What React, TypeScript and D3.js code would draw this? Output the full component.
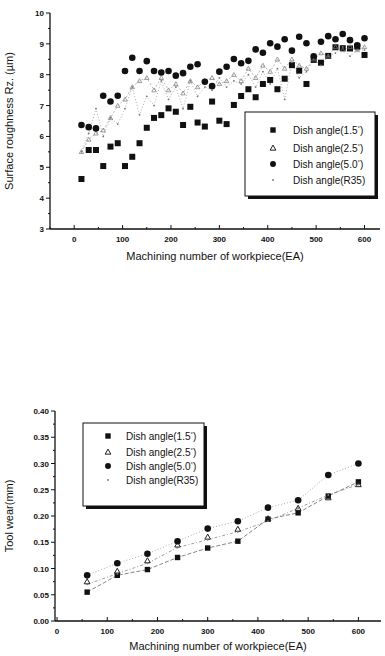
import React from "react";
import * as d3 from "d3";

// Top chart: surface roughness, every 15 workpieces
const roughX = d3.range(1, 41).map((i) => i * 15);
const rough15 = [4.62, 5.56, 5.56, 5.04, 5.67, 5.78, 5.04, 5.34, 5.78, 6.28, 6.6, 6.69, 6.91, 6.8, 6.37, 6.96, 6.45, 6.32, 7.13, 6.51, 6.4, 7.02, 7.31, 7.53, 7.27, 7.7, 7.83, 7.53, 7.87, 8.31, 8.13, 7.7, 8.48, 8.39, 8.61, 8.89, 8.86, 8.85, 8.91, 8.64];
const rough25 = [5.5, 5.9, 6.1, 6.2, 6.6, 7.0, 7.2, 7.6, 7.8, 7.9, 7.5, 7.9, 7.5, 7.7, 7.4, 7.8, 7.6, 7.8, 7.9, 7.7, 7.8, 8.0, 7.8, 8.2, 7.9, 8.3, 8.1, 8.5, 8.2, 8.5, 8.3, 8.2, 8.5, 8.7, 8.6, 8.9, 8.8, 8.9, 8.8, 8.9];
const rough50 = [6.37, 6.3, 6.26, 7.32, 7.13, 7.32, 8.12, 8.55, 8.12, 8.44, 8.12, 8.07, 8.12, 7.97, 8.05, 8.26, 8.34, 7.77, 7.63, 8.1, 8.26, 8.51, 8.37, 8.45, 8.82, 8.71, 9.02, 8.91, 9.15, 8.78, 9.23, 9.02, 8.6, 9.07, 9.25, 9.15, 9.32, 9.12, 8.95, 9.18];
const roughR35 = [5.5, 6.1, 6.9, 6.0, 6.6, 6.4, 6.9, 7.6, 6.7, 7.3, 7.0, 7.8, 7.2, 7.6, 6.9, 7.8, 7.3, 7.6, 7.5, 7.9, 7.6, 7.8, 7.7, 8.0, 7.6, 8.1, 7.7, 8.2, 7.2, 8.4, 7.9, 8.1, 8.5, 8.3, 8.6, 8.7, 8.9, 8.6, 8.8, 8.8];

// Bottom chart: tool wear, every 60 workpieces
const wearX = [60, 120, 180, 240, 300, 360, 420, 480, 540, 600];
const wear15 = [0.055, 0.087, 0.098, 0.121, 0.139, 0.152, 0.194, 0.206, 0.238, 0.265];
const wear25 = [0.075, 0.095, 0.115, 0.145, 0.16, 0.175, 0.195, 0.215, 0.235, 0.26];
const wear50 = [0.087, 0.11, 0.128, 0.152, 0.176, 0.19, 0.216, 0.23, 0.278, 0.3];
const wearR35 = [0.07, 0.09, 0.11, 0.14, 0.155, 0.17, 0.19, 0.215, 0.24, 0.26];

const legendLabels = ["1.5", "2.5", "5.0", "R35"];
const roughTicks = [3, 4, 5, 6, 7, 8, 9, 10];
const wearTicks = [0, 0.05, 0.1, 0.15, 0.2, 0.25, 0.3, 0.35, 0.4];
const xTicks = [0, 100, 200, 300, 400, 500, 600];

const FONT = "Liberation Sans, Arial, sans-serif";

function Marker({ kind, x, y, s = 1, faint = false }: { kind: number; x: number; y: number; s?: number; faint?: boolean }) {
  if (kind === 0) return <rect x={x - 3 * s} y={y - 3 * s} width={6 * s} height={6 * s} fill="#111" />;
  if (kind === 1)
    return (
      <path
        d={`M${x},${y - 3.2 * s}L${x + 3.2 * s},${y + 2.4 * s}L${x - 3.2 * s},${y + 2.4 * s}Z`}
        fill="none"
        stroke={faint ? "#777" : "#222"}
        strokeWidth={faint ? 0.7 : 1}
      />
    );
  if (kind === 2) return <circle cx={x} cy={y} r={3.3 * s} fill="#111" />;
  return <circle cx={x} cy={y} r={0.9} fill="#777" />;
}

function Legend({ x, y, w, h, rows, mx, tx }: any) {
  return (
    <g>
      <rect x={x + 3} y={y + 3} width={w} height={h} fill="#111" />
      <rect x={x} y={y} width={w} height={h} fill="#fff" stroke="#111" strokeWidth={1} />
      {legendLabels.map((l, i) => (
        <g key={l}>
          <Marker kind={i} x={mx} y={rows[i]} s={0.9} />
          <text x={tx} y={rows[i] + 3.5} fontSize={10} fontFamily={FONT} fill="#111">
            {l === "R35" ? (
              "Dish angle(R35)"
            ) : (
              <>
                Dish angle({l}
                <tspan dy={-4} fontSize={6}>°</tspan>
                <tspan dy={4}>)</tspan>
              </>
            )}
          </text>
        </g>
      ))}
    </g>
  );
}

function Axes({ x, y, yTicks, yFmt, minorY, minorX }: any) {
  const [x0, x1] = x.range();
  const [y0] = y.range();
  return (
    <g fontFamily={FONT} fill="#111">
      <line x1={x0} x2={x1} y1={y0} y2={y0} stroke="#111" strokeWidth={1.3} />
      <line x1={x0} x2={x0} y1={y0} y2={y.range()[1]} stroke="#111" strokeWidth={1.3} />
      {yTicks.map((t: number) => (
        <g key={t}>
          <line x1={x0 - 4} x2={x0} y1={y(t)} y2={y(t)} stroke="#111" />
          <text x={x0 - 6} y={y(t) + 3} fontSize={8} textAnchor="end" fontWeight="bold">
            {yFmt(t)}
          </text>
        </g>
      ))}
      {minorY.map((t: number) => (
        <line key={t} x1={x0 - 2} x2={x0} y1={y(t)} y2={y(t)} stroke="#111" />
      ))}
      {xTicks.map((t) => (
        <g key={t}>
          <line x1={x(t)} x2={x(t)} y1={y0} y2={y0 - 4} stroke="#111" />
          <text x={x(t)} y={y0 + 13} fontSize={8} textAnchor="middle" fontWeight="bold">
            {t}
          </text>
        </g>
      ))}
      {minorX.map((t: number) => (
        <line key={t} x1={x(t)} x2={x(t)} y1={y0} y2={y0 - 2} stroke="#111" />
      ))}
    </g>
  );
}

export default function App() {
  // top chart scales
  const xT = d3.scaleLinear().domain([-50, 632]).range([50, 380]);
  const yT = d3.scaleLinear().domain([3, 10]).range([229, 13]);
  // bottom chart scales
  const xB = d3.scaleLinear().domain([-4, 645]).range([55, 381]);
  const yB = d3.scaleLinear().domain([0, 0.4]).range([621, 411]);

  const topSeries = [rough15, rough25, rough50, roughR35];
  const botSeries = [wear15, wear25, wear50, wearR35];

  const lineT = (vals: number[]) =>
    d3.line<number>().x((_, i) => xT(roughX[i])).y((d) => yT(d))(vals) || "";
  const lineB = (vals: number[]) =>
    d3.line<number>().x((_, i) => xB(wearX[i])).y((d) => yB(d))(vals) || "";

  return (
    <svg width={385} height={656} style={{ position: "absolute", left: 0, top: 0, background: "#fff" }}>
      {/* ---------- top chart ---------- */}
      <path d={lineT(roughR35)} fill="none" stroke="#999" strokeWidth={0.8} strokeDasharray="1,2" />
      <path d={lineT(rough25)} fill="none" stroke="#999" strokeWidth={0.7} strokeDasharray="2,2" />
      {topSeries.map((s, k) =>
        s.map((v, i) => (
          <Marker key={`t${k}-${i}`} kind={k} x={xT(roughX[i])} y={yT(v)} s={k === 1 ? 0.7 : 1} faint={k === 1} />
        ))
      )}
      <Axes
        x={xT}
        y={yT}
        yTicks={roughTicks}
        yFmt={(t: number) => t}
        minorY={d3.range(3.5, 10, 1)}
        minorX={[-50, 50, 150, 250, 350, 450, 550]}
      />
      <Legend x={245} y={112} w={130} h={84} rows={[130, 148, 164, 180]} mx={273} tx={293} />
      <text
        transform="translate(13,121) rotate(-90)"
        textAnchor="middle"
        fontSize={11}
        fontFamily={FONT}
        fill="#111"
      >
        Surface roughness Rz. (µm)
      </text>
      <text x={215} y={260} textAnchor="middle" fontSize={11} fontFamily={FONT} fill="#111">
        Machining number of workpiece(EA)
      </text>

      {/* ---------- bottom chart ---------- */}
      <path d={lineB(wear15)} fill="none" stroke="#666" strokeWidth={0.8} strokeDasharray="4,2" />
      <path d={lineB(wear50)} fill="none" stroke="#999" strokeWidth={0.8} strokeDasharray="1,2" />
      <path d={lineB(wearR35)} fill="none" stroke="#888" strokeWidth={0.8} strokeDasharray="3,2,1,2" />
      {botSeries.map((s, k) =>
        s.map((v, i) => <Marker key={`b${k}-${i}`} kind={k} x={xB(wearX[i])} y={yB(v)} s={k === 2 ? 1 : 0.9} />)
      )}
      <Axes
        x={xB}
        y={yB}
        yTicks={wearTicks}
        yFmt={(t: number) => d3.format(".2f")(t)}
        minorY={d3.range(0.025, 0.4, 0.05)}
        minorX={[50, 150, 250, 350, 450, 550]}
      />
      <Legend x={83} y={423} w={121} h={83} rows={[436, 452, 466, 480]} mx={108} tx={126} />
      <text
        transform="translate(13,516) rotate(-90)"
        textAnchor="middle"
        fontSize={11}
        fontFamily={FONT}
        fill="#111"
      >
        Tool wear(mm)
      </text>
      <text x={218} y={650} textAnchor="middle" fontSize={11} fontFamily={FONT} fill="#111">
        Machining number of workpiece(EA)
      </text>
    </svg>
  );
}
